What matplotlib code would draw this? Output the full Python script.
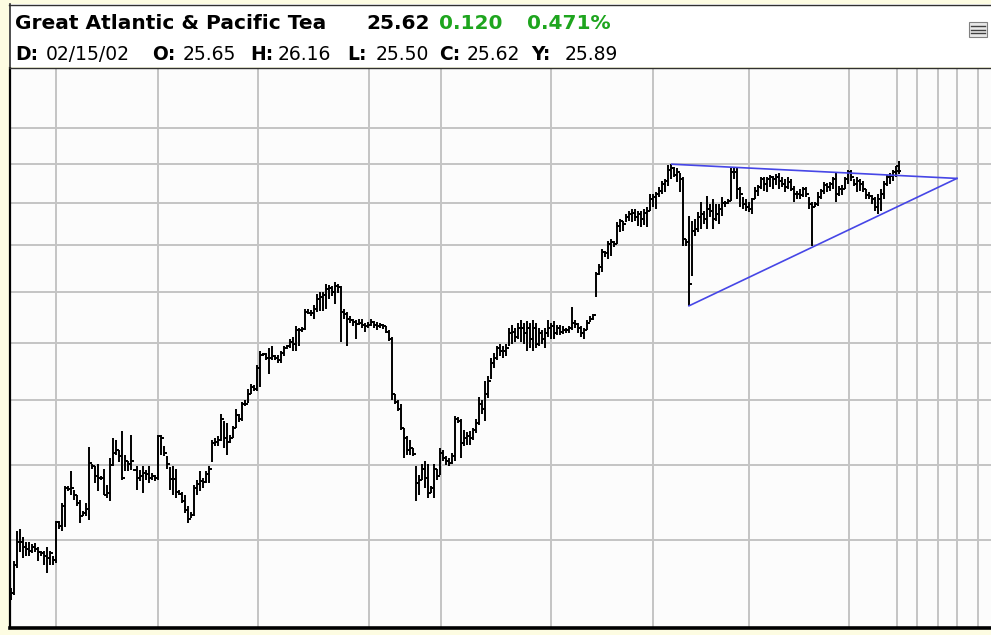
import matplotlib
matplotlib.use('Agg')
import matplotlib.pyplot as plt
import numpy as np
from matplotlib.patches import Rectangle
from matplotlib.lines import Line2D

# header values
name = 'Great Atlantic & Pacific Tea'
last_price = '25.62'
change = '0.120'
change_pct = '0.471%'
last_date = '02/15/02'
last_open = 25.65
header_fields = [('D:', last_date), ('O:', '25.65'), ('H:', '26.16'),
                 ('L:', '25.50'), ('C:', '25.62'), ('Y:', '25.89')]

# daily bars (price)
highs = [
    10.86, 11.48, 12.22, 12.27, 12.05, 11.95, 11.93, 11.89, 11.91, 11.82,
    11.73, 11.73, 11.82, 11.73, 11.61, 12.46, 12.46, 12.95, 13.41, 13.41,
    13.81, 13.30, 13.16, 13.03, 12.73, 12.95, 14.52, 14.03, 13.95, 14.03,
    13.68, 13.89, 13.43, 14.18, 14.79, 14.73, 14.42, 15.00, 14.27, 14.12,
    14.88, 13.89, 13.95, 13.84, 13.95, 13.84, 13.95, 13.76, 13.70, 14.88,
    14.88, 14.55, 14.24,
    13.92, 13.97, 13.89, 13.30, 13.24, 13.16, 12.86, 12.70, 13.43, 13.57,
    13.81, 13.62, 13.81, 13.95, 14.73, 14.79, 14.85, 15.55, 15.33, 15.24,
    14.88, 15.15, 15.70, 15.55, 15.94, 16.00, 16.36, 16.54, 16.50, 17.18,
    17.68, 17.64, 17.61, 17.79, 17.86, 17.54, 17.54, 17.71, 17.89, 17.93,
    18.15, 18.23, 18.62, 18.54, 18.58, 19.31, 19.31, 19.27, 19.46, 19.92,
    20.00, 20.00, 20.30, 20.26, 20.22, 20.39, 20.30, 20.22, 19.31, 19.19,
    19.00, 18.92, 18.85, 18.92, 18.92, 18.73, 18.77, 18.92, 18.81, 18.77,
    18.73, 18.69, 18.62, 18.46, 18.23, 16.18, 16.00, 15.85, 15.09, 14.85,
    14.73, 14.48, 13.95, 13.70, 14.03, 14.12, 14.03, 13.41, 14.03, 13.89,
    14.48, 14.42, 14.24, 14.18, 14.33, 15.48, 15.45, 15.39, 15.03, 14.97,
    15.00, 15.09, 15.39, 16.11, 16.00, 16.64, 16.79, 17.43, 17.61, 17.89,
    17.96, 17.86, 17.96, 18.54, 18.65, 18.54, 18.73, 18.85, 18.73, 18.81,
    18.73, 18.85, 18.73, 18.54, 18.46, 18.54, 18.85, 18.73, 18.81, 18.65,
    18.65, 18.62, 18.54, 18.62, 19.38, 18.85, 18.73, 18.62, 18.54, 18.85,
    19.00, 19.08, 20.83, 21.17, 21.83, 21.74, 22.19, 22.29, 22.19, 23.10,
    23.24, 23.14, 23.48, 23.62, 23.71, 23.71, 23.62, 23.62, 23.71, 23.81,
    24.45, 24.45, 24.55, 24.80, 25.10, 25.20, 25.95, 26.00, 25.85, 25.80,
    25.55, 25.35, 22.29, 23.38, 23.14, 23.24, 23.57, 24.05, 23.62, 24.35,
    23.95, 24.20, 23.95, 23.95, 24.30, 24.10, 24.20, 25.80, 25.80, 25.80,
    24.80, 24.30, 24.20, 24.05, 24.25, 24.80, 24.90, 25.35, 25.30, 25.35,
    25.45, 25.40, 25.50, 25.55, 25.30, 25.20, 25.30, 25.20, 24.85, 24.60,
    24.70, 24.80, 24.80, 24.30, 24.05, 24.05, 24.55, 24.70, 25.05, 25.00,
    25.05, 25.35, 25.60, 24.85, 24.90, 25.30, 25.70, 25.70, 25.20, 25.30,
    25.20, 25.10, 24.70, 24.55, 24.40, 24.30, 24.45, 24.70, 25.10, 25.45,
    25.55, 25.70, 25.90, 26.16,
]
lows = [
    10.59, 10.70, 11.32, 11.70, 11.55, 11.59, 11.61, 11.66, 11.70, 11.48,
    11.61, 11.39, 11.20, 11.39, 11.39, 11.43, 12.27, 12.22, 12.32, 13.27,
    13.16, 13.03, 12.86, 12.41, 12.59, 12.59, 12.49, 13.89, 13.49, 13.27,
    13.57, 13.14, 13.08, 13.00, 13.97, 14.27, 14.09, 13.57, 13.81, 13.81,
    13.84, 13.81, 13.30, 13.54, 13.22, 13.57, 13.49, 13.57, 13.54, 13.57,
    14.27, 14.24, 13.89,
    13.30, 13.14, 13.08, 13.14, 12.95, 12.68, 12.41, 12.54, 12.59, 13.16,
    13.27, 13.35, 13.49, 13.49, 14.09, 14.55, 14.55, 14.70, 14.48, 14.27,
    14.64, 14.79, 15.09, 15.30, 15.33, 15.79, 15.91, 16.21, 16.29, 16.29,
    16.43, 17.50, 17.36, 16.89, 17.36, 17.36, 17.25, 17.25, 17.50, 17.75,
    17.79, 17.68, 17.71, 17.89, 18.42, 18.46, 19.08, 19.00, 18.92, 19.19,
    19.23, 19.23, 19.31, 19.69, 19.81, 19.50, 19.96, 18.04, 18.92, 17.89,
    18.73, 18.62, 18.15, 18.65, 18.54, 18.42, 18.54, 18.62, 18.54, 18.46,
    18.54, 18.50, 18.38, 18.08, 16.00, 15.85, 15.64, 15.03, 14.18, 14.27,
    14.27, 14.24, 13.00, 13.16, 13.57, 13.35, 13.08, 13.22, 13.08, 13.57,
    13.70, 14.12, 14.00, 13.95, 14.03, 14.12, 15.24, 14.18, 14.55, 14.58,
    14.58, 14.73, 14.94, 15.18, 15.55, 15.33, 16.07, 16.71, 17.07, 17.36,
    17.50, 17.43, 17.50, 17.86, 17.96, 18.04, 18.15, 18.04, 17.96, 17.68,
    17.79, 17.68, 17.79, 17.89, 17.96, 17.79, 18.23, 18.15, 18.15, 18.27,
    18.27, 18.31, 18.35, 18.35, 18.46, 18.54, 18.35, 18.23, 18.15, 18.46,
    18.77, 18.85, 19.77, 20.70, 20.83, 21.48, 21.39, 21.52, 21.91, 22.05,
    22.62, 22.67, 23.10, 23.14, 23.10, 23.14, 22.90, 22.86, 22.95, 22.86,
    23.62, 23.81, 23.71, 24.30, 24.45, 24.55, 24.85, 25.20, 25.30, 25.05,
    24.55, 21.96, 21.96, 19.42, 20.65, 22.43, 22.62, 22.76, 23.00, 22.76,
    23.33, 22.76, 23.14, 23.00, 23.38, 23.81, 23.95, 24.10, 25.20, 24.20,
    23.81, 23.71, 23.62, 23.57, 23.48, 24.20, 24.35, 24.70, 24.60, 24.55,
    24.80, 24.70, 24.90, 24.70, 24.80, 24.55, 24.70, 24.60, 24.05, 24.20,
    24.20, 24.30, 24.30, 23.71, 21.96, 23.81, 23.86, 24.20, 24.45, 24.55,
    24.60, 24.70, 24.05, 24.35, 24.40, 24.70, 24.95, 25.10, 24.85, 24.55,
    24.60, 24.55, 24.20, 24.20, 23.95, 23.62, 23.48, 23.62, 24.20, 24.85,
    24.95, 25.10, 25.30, 25.50,
]
closes = [
    10.75, 11.39, 11.93, 11.95, 11.82, 11.77, 11.73, 11.82, 11.77, 11.70,
    11.66, 11.61, 11.55, 11.66, 11.50, 12.43, 12.35, 12.86, 13.35, 13.32,
    13.35, 13.16, 12.95, 12.59, 12.68, 12.78, 14.06, 13.95, 13.68, 13.62,
    13.62, 13.16, 13.22, 14.00, 14.33, 14.42, 14.24, 13.62, 14.12, 14.03,
    14.12, 13.86, 13.62, 13.68, 13.76, 13.73, 13.62, 13.68, 13.62, 14.85,
    14.79, 14.33, 14.03,
    13.59, 13.59, 13.24, 13.19, 13.00, 12.76, 12.51, 12.62, 13.35, 13.46,
    13.54, 13.51, 13.73, 13.89, 14.64, 14.67, 14.73, 15.39, 14.79, 14.67,
    14.79, 15.09, 15.52, 15.39, 15.85, 15.88, 16.21, 16.43, 16.36, 17.07,
    17.54, 17.57, 17.43, 17.43, 17.50, 17.43, 17.36, 17.61, 17.82, 17.86,
    18.04, 17.96, 18.46, 18.46, 18.50, 19.19, 19.15, 19.12, 19.31, 19.69,
    19.77, 19.85, 20.09, 20.13, 20.00, 20.22, 20.17, 19.19, 19.08, 18.92,
    18.85, 18.77, 18.69, 18.73, 18.65, 18.62, 18.65, 18.77, 18.65, 18.62,
    18.65, 18.62, 18.42, 18.15, 16.18, 15.94, 15.70, 15.09, 14.79, 14.42,
    14.48, 14.30, 13.49, 13.57, 13.89, 13.62, 13.22, 13.35, 13.89, 13.68,
    14.33, 14.18, 14.12, 14.06, 14.24, 15.39, 15.33, 14.64, 14.79, 14.85,
    14.79, 15.03, 15.24, 15.85, 15.70, 16.18, 16.64, 17.25, 17.43, 17.79,
    17.71, 17.71, 17.79, 18.35, 18.42, 18.23, 18.54, 18.54, 18.35, 18.54,
    18.15, 18.54, 17.96, 18.35, 18.15, 18.35, 18.54, 18.62, 18.35, 18.54,
    18.42, 18.46, 18.46, 18.54, 18.73, 18.69, 18.54, 18.35, 18.46, 18.73,
    18.92, 19.04, 20.74, 21.04, 21.70, 21.65, 22.05, 22.14, 22.05, 22.90,
    23.14, 23.00, 23.33, 23.48, 23.52, 23.33, 23.48, 23.24, 23.52, 23.62,
    24.20, 24.30, 24.45, 24.60, 24.95, 25.10, 25.70, 25.80, 25.45, 25.60,
    25.20, 22.29, 22.14, 20.30, 22.67, 22.76, 23.33, 23.48, 23.24, 23.71,
    23.62, 23.24, 23.48, 23.71, 24.00, 24.00, 24.10, 25.60, 25.60, 24.70,
    24.45, 23.95, 23.81, 23.71, 24.20, 24.60, 24.80, 25.20, 24.95, 25.20,
    25.30, 25.20, 25.35, 25.10, 24.95, 24.80, 25.05, 24.70, 24.45, 24.45,
    24.40, 24.70, 24.45, 23.95, 23.81, 23.95, 24.30, 24.60, 24.90, 24.80,
    24.95, 25.20, 24.45, 24.70, 24.70, 25.20, 25.60, 25.30, 24.95, 25.10,
    24.95, 24.70, 24.40, 24.35, 24.20, 23.81, 24.20, 24.45, 24.95, 25.30,
    25.40, 25.60, 25.89, 25.62,
]
assert len(highs) == len(lows) == len(closes)

# opens are not readable: tick drawn at prior close, last bar from header
opens = [closes[0]] + closes[:-1]
opens[-1] = last_open

# chart grid (bar index / price)
grid_x = [15, 49, 82.5, 119.5, 143.5, 180, 214, 246, 279.5, 295.5, 302, 309, 315.5, 322.5]
grid_y = [12, 14, 16, 18, 20, 22, 24, 26, 28]

# triangle trend lines: (bar index, price)
upper_line = ([220.3, 315.3], [26.0, 25.25])
lower_line = ([226.0, 315.3], [19.42, 25.25])

W, H = 991, 635
fig = plt.figure(figsize=(W / 100, H / 100), dpi=100, facecolor='#fdfce2')


def fx(px):
    return px / W


def fy(py):
    return 1 - py / H


# header panel
fig.patches.append(Rectangle((fx(9), fy(67)), fx(991) - fx(9), fy(4) - fy(67),
                             transform=fig.transFigure, facecolor='white', edgecolor='none'))
fig.add_artist(Line2D([fx(9), fx(991)], [fy(4.5), fy(4.5)], color='#303030', lw=1))
fig.add_artist(Line2D([fx(9.5), fx(9.5)], [fy(4), fy(68)], color='#303030', lw=1.2))

# small menu icon top right
fig.patches.append(Rectangle((fx(969), fy(37)), fx(18) - fx(0), fy(22) - fy(37),
                             transform=fig.transFigure, facecolor='#e8e8e8', edgecolor='#808080', lw=0.8))
for yy in (26, 29.5, 33):
    fig.add_artist(Line2D([fx(971), fx(985)], [fy(yy), fy(yy)], color='#404040', lw=1.0))

green = '#1ea51e'
fig.text(fx(15), fy(29), name, fontsize=14.5, fontweight='bold', color='black', va='baseline')
fig.text(fx(366), fy(29), last_price, fontsize=14.5, fontweight='bold', color='black', va='baseline')
fig.text(fx(439), fy(29), change, fontsize=14.5, fontweight='bold', color=green, va='baseline')
fig.text(fx(527), fy(29), change_pct, fontsize=14.5, fontweight='bold', color=green, va='baseline')

label_x = [15, 152, 250, 347, 439, 531]
value_x = [46, 183, 278, 376, 467, 565]
for (lab, val), lx, vx in zip(header_fields, label_x, value_x):
    fig.text(fx(lx), fy(60), lab, fontsize=13.5, fontweight='bold', va='baseline')
    fig.text(fx(vx), fy(60), val, fontsize=13.5, va='baseline')

# price panel
ax = fig.add_axes([fx(10), fy(628), fx(991) - fx(10), fy(68) - fy(628)])
ax.set_facecolor('#fcfcfc')
ax.set_yscale('log')
ax.set_ylim(10.0, 31.7)
ax.set_xlim(-0.33, 326.67)
ax.set_xticks(grid_x)
ax.set_yticks(grid_y)
ax.yaxis.set_minor_locator(plt.NullLocator())
ax.tick_params(which='both', length=0, labelbottom=False, labelleft=False)
ax.grid(True, color='#c4c4c4', lw=1.4)
ax.set_axisbelow(True)
for s in ('right',):
    ax.spines[s].set_visible(False)
ax.spines['left'].set_linewidth(1.6)
ax.spines['bottom'].set_linewidth(2.6)
ax.spines['top'].set_linewidth(1.0)
ax.spines['top'].set_color('#303030')

idx = np.arange(len(closes))
ax.vlines(idx, lows, highs, color='black', lw=1.4)
ax.hlines(closes, idx, idx + 0.8, color='black', lw=1.4)
ax.hlines(opens, idx - 0.8, idx, color='black', lw=1.4)

ax.plot(*upper_line, color='#4646e6', lw=1.2)
ax.plot(*lower_line, color='#4646e6', lw=1.2)

fig.savefig('out.png', dpi=100, facecolor=fig.get_facecolor())
